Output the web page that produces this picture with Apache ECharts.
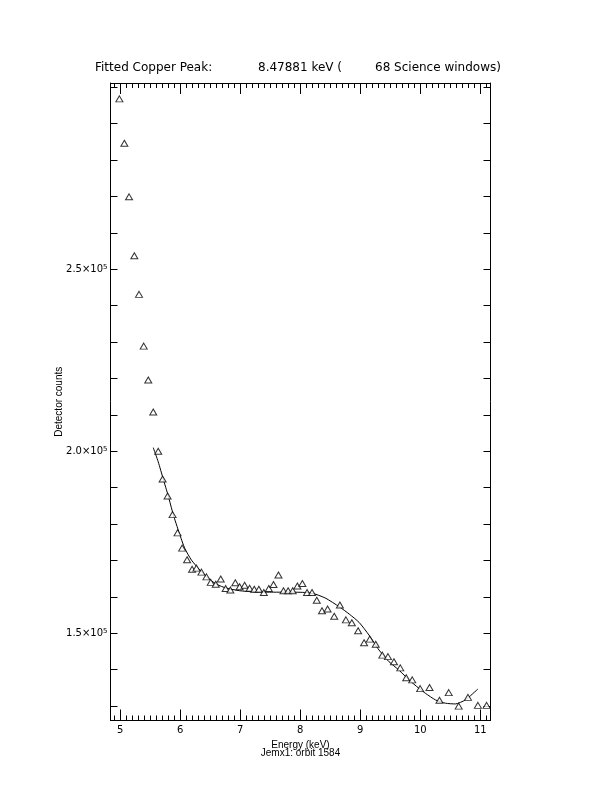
<!DOCTYPE html>
<html>
<head>
<meta charset="utf-8">
<script src="https://cdn.jsdelivr.net/npm/echarts@6/dist/echarts.min.js"></script>
<style>html,body{margin:0;padding:0;background:#fff}#c{width:612px;height:792px}</style>
</head>
<body>
<div id="c"></div>
<script>
// Measured data points (energy keV, detector counts)
var energy = [4.988,5.071,5.149,5.237,5.315,5.393,5.469,5.552,5.635,5.708,5.791,5.874,5.957,6.034,6.116,6.199,6.272,6.355,6.438,6.510,6.593,6.676,6.758,6.836,6.919,6.991,7.074,7.157,7.235,7.311,7.394,7.477,7.555,7.638,7.721,7.799,7.875,7.953,8.036,8.114,8.197,8.276,8.363,8.456,8.567,8.661,8.761,8.860,8.965,9.064,9.159,9.258,9.368,9.462,9.562,9.667,9.766,9.866,9.998,10.154,10.320,10.474,10.640,10.795,10.960,11.105];
var counts = [296800,284600,269900,253700,243100,228900,219600,210800,200000,192400,187700,182600,177600,173400,170200,167600,167900,166800,165500,164000,163500,164900,162300,161900,163900,162800,163200,162400,162100,162100,161200,162300,163400,166000,161700,161700,161700,163000,163700,161200,161200,159100,156200,156700,154700,157800,153700,152900,150700,147400,148400,147000,144000,143600,142200,140500,137800,137200,134800,135100,131600,133700,130000,132400,130200,130200];
// Fitted curve
var fitEnergy = [5.552,5.635,5.718,5.801,5.884,5.984,6.078,6.189,6.316,6.438,6.604,6.770,6.991,7.211,7.488,7.820,8.097,8.263,8.429,8.650,8.816,8.981,9.147,9.313,9.479,9.645,9.811,9.977,10.088,10.254,10.420,10.586,10.751,10.960];
var fitCounts = [201000,197100,192400,187800,182700,177600,173300,170100,167600,165500,163500,162400,161700,161400,161300,161300,161200,160700,159600,157300,155300,153000,149500,145400,142200,139900,137200,134900,133500,131700,130800,130600,131700,134700];
// Ticks
var xMajorTicks = [5,6,7,8,9,10,11];
var xMinorTicks = [];
for (var t = 49; t <= 111; t++) { if (t % 10 !== 0) xMinorTicks.push(t / 10); }
var yLabelTicks = [150000,200000,250000];
var yTicks = [];
for (var v = 130000; v <= 300000; v += 10000) yTicks.push(v);

var xMin = 4.84, xMax = 11.17, yMin = 126050, yMax = 301170;
var font = 'DejaVu Sans';

function yFmt(val) {
  var m = (val / 100000).toFixed(1);
  return '{b|' + m + '×10}{s|5}';
}

var chart = echarts.init(document.getElementById('c'), null, {renderer: 'canvas'});
function xAx(pos, ticks, len, labels) {
  return {
    type: 'value', position: pos, min: xMin, max: xMax,
    axisLine: {show: true, lineStyle: {color: '#000', width: 1}},
    axisTick: {show: true, inside: true, length: len, customValues: ticks, lineStyle: {color: '#000', width: 1}},
    axisLabel: labels ? {show: true, customValues: xMajorTicks, color: '#000', fontFamily: font, fontSize: 10, margin: 5, formatter: function(v){return String(Math.round(v));}} : {show: false},
    splitLine: {show: false}
  };
}
var xAxes = [xAx('bottom', xMajorTicks, 11, true), xAx('bottom', xMinorTicks, 5, false), xAx('top', xMajorTicks, 11, false), xAx('top', xMinorTicks, 5, false)];
xAxes[0].name = 'Energy (keV)\nJemx1: orbit 1584';
xAxes[0].nameLocation = 'middle';
xAxes[0].nameGap = 10;
xAxes[0].nameTextStyle = {color: '#000', fontFamily: 'Liberation Sans', fontSize: 10, lineHeight: 8, verticalAlign: 'top'};

function yAx(pos, labels) {
  return {
    type: 'value', position: pos, min: yMin, max: yMax,
    axisLine: {show: true, lineStyle: {color: '#000', width: 1}},
    axisTick: {show: true, inside: true, length: 7, customValues: yTicks, lineStyle: {color: '#000', width: 1}},
    axisLabel: labels ? {show: true, customValues: yLabelTicks, margin: 3, formatter: yFmt,
      rich: {b: {color: '#000', fontFamily: font, fontSize: 10}, s: {color: '#000', fontFamily: font, fontSize: 7, padding: [0,0,5,0]}}} : {show: false},
    splitLine: {show: false}
  };
}
var yAxes = [yAx('left', true), yAx('right', false)];
yAxes[0].name = 'Detector counts';
yAxes[0].nameLocation = 'middle';
yAxes[0].nameGap = 46;
yAxes[0].nameMoveOverlap = false;
yAxes[0].nameTextStyle = {color: '#000', fontFamily: 'Liberation Sans', fontSize: 10};

chart.setOption({
  animation: false,
  backgroundColor: '#fff',
  grid: {left: 110.5, right: 121.5, top: 83, bottom: 71.5, containLabel: false},
  xAxis: xAxes,
  yAxis: yAxes,
  graphic: [
    {type: 'text', left: 95, top: 62, style: {text: 'Fitted Copper Peak:', fill: '#000', font: '12px "DejaVu Sans"'}},
    {type: 'text', left: 258, top: 62, style: {text: '8.47881 keV (', fill: '#000', font: '12px "DejaVu Sans"'}},
    {type: 'text', left: 375, top: 62, style: {text: '68 Science windows)', fill: '#000', font: '12px "DejaVu Sans"'}}
  ],
  series: [
    {type: 'line', data: fitEnergy.map(function(e,i){return [e, fitCounts[i]];}), xAxisIndex: 0, yAxisIndex: 0,
     showSymbol: false, smooth: 0.2, lineStyle: {color: '#000', width: 1}, z: 2},
    {type: 'scatter', data: energy.map(function(e,i){return [e, counts[i]];}), xAxisIndex: 0, yAxisIndex: 0,
     symbol: 'triangle', symbolSize: [7,6], itemStyle: {color: '#fff', borderColor: '#000', borderWidth: 1}, z: 3}
  ]
});
</script>
</body>
</html>
